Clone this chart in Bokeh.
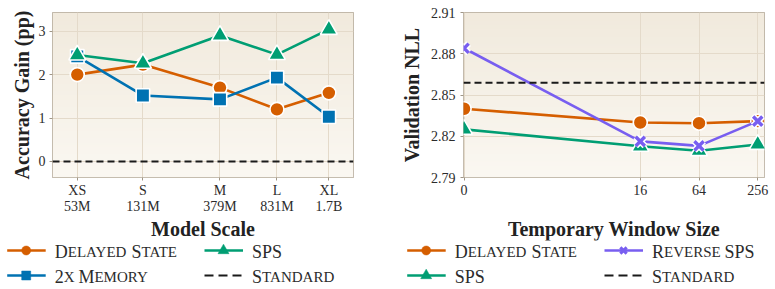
import numpy as np
from bokeh.plotting import figure
from bokeh.layouts import column, row
from bokeh.models import Range1d, FixedTicker, CustomJSTickFormatter, PrintfTickFormatter, Span, ColumnDataSource
from bokeh.core.properties import value
from bokeh.embed import file_html
from bokeh.resources import INLINE

# ---------------- data ----------------
scale_names = ["XS", "S", "M", "L", "XL"]
scale_param_labels = ["53M", "131M", "379M", "831M", "1.7B"]
scale_params = [53e6, 131e6, 379e6, 831e6, 1.7e9]
gain_delayed = [2.00, 2.23, 1.70, 1.20, 1.58]
gain_memory = [2.42, 1.52, 1.43, 1.93, 1.03]
gain_sps = [2.45, 2.26, 2.90, 2.46, 3.04]
gain_standard = 0.0

window_sizes = [0, 16, 64, 256]
window_labels = ["0", "16", "64", "256"]
nll_delayed = [2.840, 2.830, 2.8295, 2.831]
nll_sps = [2.825, 2.8127, 2.8095, 2.814]
nll_reverse = [2.884, 2.8163, 2.813, 2.831]
nll_standard = 2.859
nll_ticks = [2.79, 2.82, 2.85, 2.88, 2.91]
gain_ticks = [0, 1, 2, 3]

ORANGE = "#D55E00"
BLUE = "#0072B2"
GREEN = "#009E73"
PURPLE = "#785EF0"
DARK = "#1a1a1a"
FONT = "Liberation Serif"

TOP_H = 244
BOTTOM_BORDER = 67
LEG_TOP = 240          # legend strip overlaps the (empty) bottom of the top row
OVERLAP = TOP_H - LEG_TOP


def symlog2(v):
    v = np.asarray(v, dtype=float)
    return np.where(v <= 1, 2 * v, np.log2(np.maximum(v, 1)) + 2)


def gradient_image(p, x0, x1, y0, y1):
    n = 200
    img = np.empty((n, 1), dtype=np.uint32)
    view = img.view(dtype=np.uint8).reshape((n, 1, 4))
    top = np.array([241, 234, 221])
    bot = np.array([251, 248, 242])
    t = np.linspace(0, 1, n)[:, None]
    cols = bot[None, :] * (1 - t) + top[None, :] * t
    view[:, 0, 0] = cols[:, 0].astype(np.uint8)
    view[:, 0, 1] = cols[:, 1].astype(np.uint8)
    view[:, 0, 2] = cols[:, 2].astype(np.uint8)
    view[:, 0, 3] = 255
    p.image_rgba(image=[img], x=x0, y=y0, dw=x1 - x0, dh=y1 - y0, level="image")


def style(p):
    p.outline_line_color = "#B3A999"
    p.outline_line_width = 1
    p.background_fill_color = "#F6F1E8"
    p.border_fill_color = "white"
    for ax in p.axis:
        ax.axis_line_color = None
        ax.major_tick_line_color = "#A09686"
        ax.major_tick_out = 3
        ax.major_tick_in = 0
        ax.minor_tick_line_color = None
        ax.major_label_text_font = FONT
        ax.major_label_text_font_size = "14px"
        ax.major_label_text_color = "#2b2b2b"
        ax.major_label_text_line_height = 1.1
        ax.axis_label_text_font = FONT
        ax.axis_label_text_font_style = "bold"
        ax.axis_label_text_font_size = "20px"
        ax.axis_label_text_color = "#222222"
        ax.axis_label_text_line_height = 1.0
    p.grid.grid_line_color = "#E4DACA"
    p.grid.grid_line_width = 1


def series(p, x, y, color, marker, size):
    p.line(x, y, line_color=color, line_width=2.6)
    if marker == "x":
        p.scatter(x, y, marker="x", size=size, line_color="white", line_width=6.5)
        p.scatter(x, y, marker="x", size=size, line_color=color, line_width=3.4)
    else:
        p.scatter(x, y, marker=marker, size=size, fill_color=color, line_color="white", line_width=1.6)


# ---------------- left panel ----------------
lx = np.log10(scale_params)
lx_range = Range1d(7.576, 9.378)
ly_range = Range1d(-0.37, 3.43)
pL = figure(width=388, height=TOP_H, x_range=lx_range, y_range=ly_range,
            output_backend="svg", toolbar_location=None,
            min_border_left=52, min_border_right=35, min_border_top=11,
            min_border_bottom=BOTTOM_BORDER)
gradient_image(pL, lx_range.start, lx_range.end, ly_range.start, ly_range.end)
style(pL)
pL.xaxis.ticker = FixedTicker(ticks=list(lx))
pL.xaxis.formatter = CustomJSTickFormatter(
    args=dict(labels=[f"{a}\n{b}" for a, b in zip(scale_names, scale_param_labels)]),
    code="return labels[index];")
pL.yaxis.ticker = FixedTicker(ticks=gain_ticks)
pL.xaxis.axis_label = "Model Scale"
pL.yaxis.axis_label = "Accuracy Gain (pp)"
pL.xaxis.major_label_standoff = 2
pL.xaxis.axis_label_standoff = 1
pL.yaxis.major_label_standoff = 4
pL.yaxis.axis_label_standoff = 3
pL.add_layout(Span(location=gain_standard, dimension="width", line_color=DARK,
                   line_width=2, line_dash="7 4"))
series(pL, lx, gain_delayed, ORANGE, "circle", 14)
series(pL, lx, gain_memory, BLUE, "square", 13.5)
series(pL, lx, gain_sps, GREEN, "triangle", 17)

# ---------------- right panel ----------------
rx = symlog2(window_sizes)
rx_range = Range1d(-0.02, 10.23)
ry_range = Range1d(2.79, 2.91)
pR = figure(width=387, height=TOP_H, x_range=rx_range, y_range=ry_range,
            output_backend="svg", toolbar_location=None,
            min_border_left=75, min_border_right=11, min_border_top=12,
            min_border_bottom=BOTTOM_BORDER)
gradient_image(pR, rx_range.start, rx_range.end, ry_range.start, ry_range.end)
style(pR)
pR.xaxis.ticker = FixedTicker(ticks=list(rx))
# second (blank) line keeps the axis title level with the left panel's
pR.xaxis.formatter = CustomJSTickFormatter(args=dict(labels=[f"{w}\n " for w in window_labels]),
                                           code="return labels[index];")
pR.yaxis.ticker = FixedTicker(ticks=nll_ticks)
pR.yaxis.formatter = PrintfTickFormatter(format="%.2f")
pR.xaxis.axis_label = "Temporary Window Size"
pR.yaxis.axis_label = "Validation NLL"
pR.xaxis.major_label_standoff = 2
pR.xaxis.axis_label_standoff = 1
pR.yaxis.major_label_standoff = 5
pR.yaxis.axis_label_standoff = 5
pR.add_layout(Span(location=nll_standard, dimension="width", line_color=DARK,
                   line_width=2, line_dash="7 4"))
series(pR, rx, nll_sps, GREEN, "triangle", 17)
series(pR, rx, nll_delayed, ORANGE, "circle", 14)
series(pR, rx, nll_reverse, PURPLE, "x", 13)

# ---------------- legend strip ----------------
leg = figure(width=775, height=289 - LEG_TOP, x_range=Range1d(0, 775), y_range=Range1d(289, LEG_TOP),
             output_backend="svg", toolbar_location=None, min_border=0,
             x_axis_location=None, y_axis_location=None,
             margin=(-OVERLAP, 0, 0, 0))
leg.grid.visible = False
leg.outline_line_color = None
leg.background_fill_color = "white"
leg.border_fill_color = "white"

WID = dict(A=722, B=667, C=667, D=722, E=611, F=556, G=722, H=722, I=333, J=389, K=722,
           L=611, M=889, N=722, O=722, P=556, Q=722, R=667, S=556, T=611, U=722, V=722,
           W=944, X=722, Y=722, Z=611)
WID.update({str(d): 500 for d in range(10)})
WID[" "] = 250
BIG, SMALL = 18, 15


def smallcaps_runs(label, x0):
    runs = []
    x = x0
    for ch in label:
        if ch == " ":
            size = SMALL
            c = " "
        elif ch.islower():
            size = SMALL
            c = ch.upper()
        else:
            size = BIG
            c = ch
        if runs and (runs[-1][2] == size or c == " "):
            runs[-1][0] += c
        else:
            runs.append([c, x, size])
        x += WID.get(c, 500) * size / 1000.0
    return runs


# (label, color, marker, dashed, column left x, row y)
legend_items = [
    ("Delayed State", ORANGE, "circle", False, 6.7, 250),
    ("2x Memory", BLUE, "square", False, 6.7, 275),
    ("SPS", GREEN, "triangle", False, 204, 250),
    ("Standard", DARK, None, True, 204, 275),
    ("Delayed State", ORANGE, "circle", False, 406.7, 250),
    ("SPS", GREEN, "triangle", False, 406.7, 275),
    ("Reverse SPS", PURPLE, "x", False, 604, 250),
    ("Standard", DARK, None, True, 604, 275),
]
tx, ty, tt, ts = [], [], [], []
for label, color, marker, dashed, x0, y0 in legend_items:
    if dashed:
        leg.line([x0, x0 + 38], [y0, y0], line_color=color, line_width=2, line_dash="9 5")
    else:
        leg.line([x0, x0 + 38.5], [y0, y0], line_color=color, line_width=2.6)
    xm = x0 + 19
    if marker == "x":
        leg.scatter([xm], [y0], marker="x", size=9, line_color=color, line_width=3)
    elif marker:
        leg.scatter([xm], [y0], marker=marker, size=9 if marker != "triangle" else 11,
                    fill_color=color, line_color=color, line_width=0.5)
    for text, x, size in smallcaps_runs(label, x0 + 47.6):
        tx.append(x)
        ty.append(y0 + 1)
        tt.append(text)
        ts.append(f"{size}px")
src = ColumnDataSource(dict(x=tx, y=ty, text=tt, size=ts))
leg.text(x="x", y="y", text="text", text_font_size="size", source=src,
         text_font=value(FONT), text_color="#2b2b2b", text_align="left",
         text_baseline="alphabetic")

layout = column(row(pL, pR, spacing=0), leg, spacing=0)
open("out.html", "w").write(file_html(layout, INLINE))
